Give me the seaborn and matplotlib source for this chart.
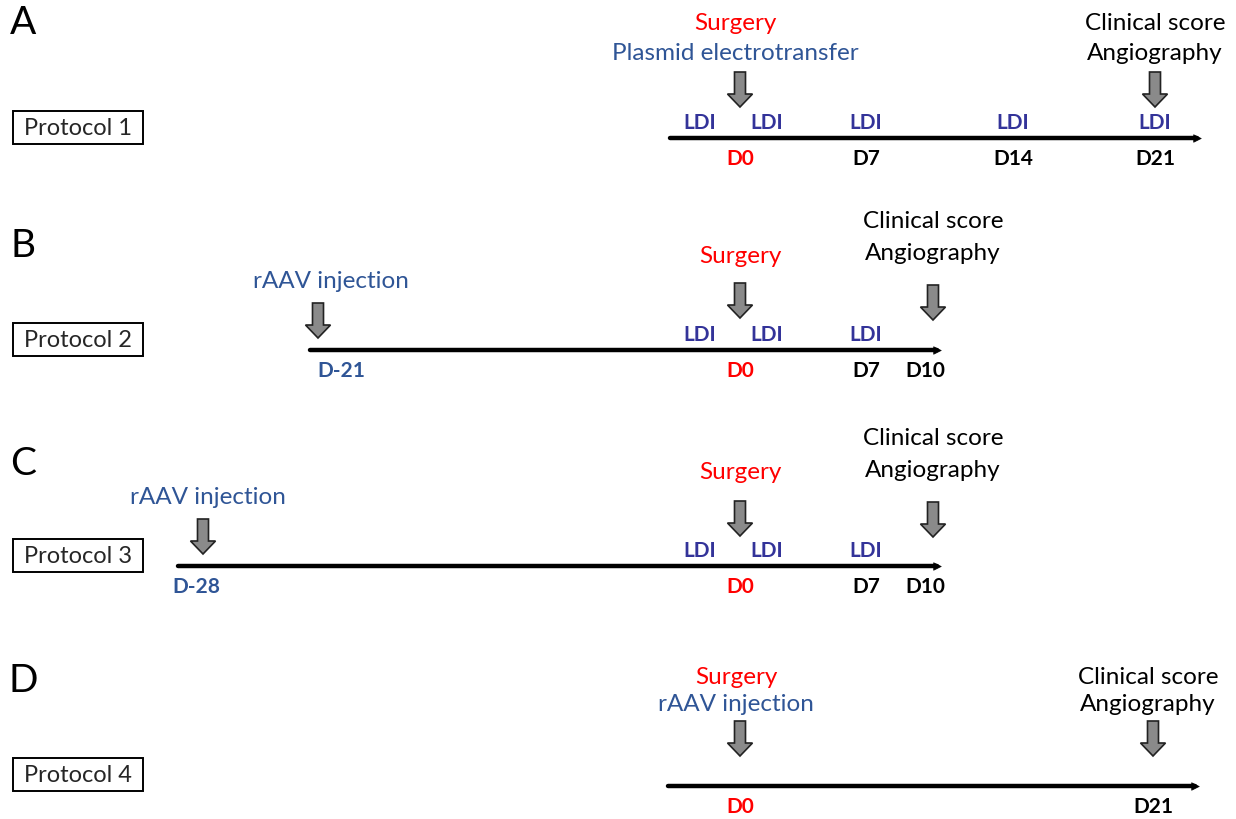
import pandas as pd
import seaborn as sns
import matplotlib.pyplot as plt
from matplotlib.patches import FancyArrow, Rectangle

# ---- data ----
panel_letters = ["A", "B", "C", "D"]
protocols = ["Protocol 1", "Protocol 2", "Protocol 3", "Protocol 4"]

# timeline extent (pixel x) per protocol
line_start = [670, 310, 178, 668]
line_end = [1197, 937, 937, 1195]

# day labels per protocol and their x
day_labels = [["D0", "D7", "D14", "D21"],
              ["D-21", "D0", "D7", "D10"],
              ["D-28", "D0", "D7", "D10"],
              ["D0", "D21"]]
day_x = [[740, 866, 1013, 1155],
         [341, 740, 866, 925],
         [196, 740, 866, 925],
         [740, 1153]]

# LDI measurements
ldi_x = [[700, 767, 866, 1013, 1155],
         [700, 767, 866],
         [700, 767, 866],
         []]

# events: arrow x, label lines
events = [
    [(740, [("Surgery", "red"), ("Plasmid electrotransfer", "blue")]),
     (1155, [("Clinical score", "k"), ("Angiography", "k")])],
    [(318, [("rAAV injection", "blue")]),
     (740, [("Surgery", "red")]),
     (933, [("Clinical score", "k"), ("Angiography", "k")])],
    [(203, [("rAAV injection", "blue")]),
     (740, [("Surgery", "red")]),
     (933, [("Clinical score", "k"), ("Angiography", "k")])],
    [(740, [("Surgery", "red"), ("rAAV injection", "blue")]),
     (1153, [("Clinical score", "k"), ("Angiography", "k")])],
]

# ---- layout ----
row_y = [139, 351, 567, 787]          # timeline y
letter_y = [23, 246, 464, 681]
arrow_top = [[73, 73], [304, 284, 286], [520, 502, 503], [722, 722]]
# text y of each label line, per event
label_y = [[[23, 54], [23, 54]],
           [[282], [257], [222, 254]],
           [[498], [473], [439, 471]],
           [[678, 705], [678, 705]]]
label_dx = [[-5, 0], [13, 0, 0], [5, 0, 0], [-4, -5]]

RED = "#ff0000"
BLUE = "#2f5596"
NAVY = "#333399"
cmap = {"red": RED, "blue": BLUE, "k": "black"}

sns.set_theme(style="white")
plt.rcParams["font.family"] = ["Lato", "DejaVu Sans"]

fig = plt.figure(figsize=(12.36, 8.20), dpi=100)
ax = fig.add_axes([0, 0, 1, 1])
ax.set_xlim(0, 1236)
ax.set_ylim(820, 0)
ax.axis("off")

lines = pd.DataFrame({
    "x": line_start + line_end,
    "y": row_y + row_y,
    "protocol": protocols + protocols,
})
sns.lineplot(data=lines, x="x", y="y", units="protocol", estimator=None,
             color="black", linewidth=3.2, sort=False, ax=ax, legend=False)
ends = pd.DataFrame({"x": line_end, "y": row_y})
sns.scatterplot(data=ends, x="x", y="y", marker=">", s=30, color="black",
                edgecolor="black", ax=ax, legend=False)
ax.set_xlabel("")
ax.set_ylabel("")

for i, name in enumerate(protocols):
    y = row_y[i]
    ax.text(23, letter_y[i], panel_letters[i], fontsize=28, ha="center",
            va="center", color="black")
    by = y - 11 if i < 3 else y - 12
    ax.add_patch(Rectangle((13, by - 16), 130, 33, fill=False,
                           edgecolor="black", linewidth=1.4))
    ax.text(78, by + 0.5, name, fontsize=17, ha="center", va="center")

    for lab, x in zip(day_labels[i], day_x[i]):
        col = RED if lab == "D0" else (BLUE if lab.startswith("D-") else "black")
        ax.text(x, y + 20, lab, fontsize=15, fontweight="bold", color=col,
                ha="center", va="center")

    for x in ldi_x[i]:
        ax.text(x, y - 16, "LDI", fontsize=15, fontweight="bold",
                color=NAVY, ha="center", va="center")

    for j, (x, texts) in enumerate(events[i]):
        top = arrow_top[i][j]
        ax.add_patch(FancyArrow(x, top, 0, 35, width=11, head_width=25,
                                head_length=13, length_includes_head=True,
                                facecolor="#8a8a8a", edgecolor="#222222",
                                linewidth=1.2))
        for (t, c), ty in zip(texts, label_y[i][j]):
            ax.text(x + label_dx[i][j], ty, t, fontsize=17.5, color=cmap[c],
                    ha="center", va="center")

fig.savefig("out.png", dpi=100, facecolor="white")
